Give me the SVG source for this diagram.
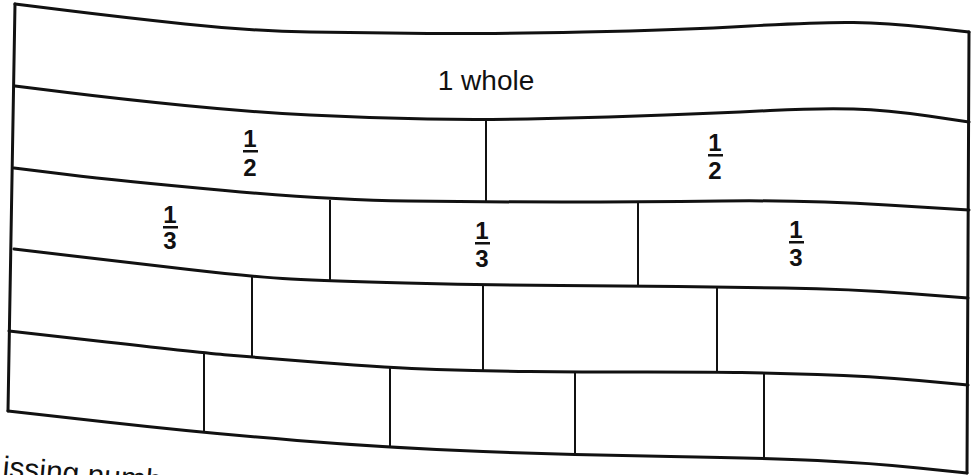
<svg xmlns="http://www.w3.org/2000/svg" width="971" height="475" viewBox="0 0 971 475">
<style>
.edge{fill:none;stroke:#111;stroke-width:3;stroke-linecap:round;stroke-linejoin:round}
.div{fill:none;stroke:#111;stroke-width:2}
.lbl{font-family:"Liberation Sans",Arial,sans-serif;fill:#111;text-anchor:middle}
.num{font-size:24px;font-weight:bold}
.bar{fill:#111}
</style>
<rect width="971" height="475" fill="#fff"/>
<g id="connectors">
<path class="edge" d="M15,4 L67.5,10.5 Q120,17 185,24 Q250,31 310,32 Q370,33 428,33.5 Q486,34 583,32 Q680,30 750,26 Q820,22 853.5,22.5 Q887,23 928.5,27.5 L969,32"/>
<path class="edge" d="M15,86 L67.5,92.5 Q120,99 185,105.5 Q250,112 310,115 Q370,118 427.5,119 Q485,120 547.5,118.5 Q610,117 665,115 Q720,113 770,110.5 Q820,108 853.5,109 Q887,110 928.5,116 L969,122"/>
<path class="edge" d="M14,168 L67,174.5 Q120,181 225,190.5 Q330,200 408,201 Q486,202 562,202 Q638,202 721.5,201 Q805,200 887,205 L969,210"/>
<path class="edge" d="M14,249 L69,255.5 Q124,262 189,269.5 Q254,277 291,279 Q328,281 405.5,283 Q483,285 560.5,285.5 Q638,286 678,286.5 Q718,287 784,288 Q850,289 909,293.5 L968,298"/>
<path class="edge" d="M9,331 L106.5,342 Q204,353 227.5,355 Q251,357 320.5,362.5 Q390,368 436.5,369.5 Q483,371 529.5,371.5 Q576,372 647,372 Q718,372 741.5,372.5 Q765,373 817.5,374.5 Q870,376 919,380.5 L968,385"/>
<path class="edge" d="M8,411 L106,422 Q204,433 297,440.5 Q390,448 483,451.5 Q576,455 670.5,456.5 Q765,458 817.5,460.5 Q870,463 918.5,468 L967,473"/>
<path class="edge" d="M15,4 L8,411"/>
<path class="edge" d="M969,32 L967,473"/>
</g>
<g id="row-whole">
<text class="lbl" x="486" y="90" font-size="28">1 whole</text>
</g>
<g id="row-halves">
<line class="div" x1="486" y1="120" x2="486" y2="202"/>
<g id="half-1">
<text class="lbl num" x="250" y="147">1</text><rect class="bar" x="243" y="150" width="15" height="2.5"/><text class="lbl num" x="250" y="176">2</text>
</g>
<g id="half-2">
<text class="lbl num" x="715" y="151">1</text><rect class="bar" x="708" y="154" width="15" height="2.5"/><text class="lbl num" x="715" y="179">2</text>
</g>
</g>
<g id="row-thirds">
<line class="div" x1="330" y1="200" x2="330" y2="281"/>
<line class="div" x1="638" y1="202" x2="638" y2="286"/>
<g id="third-1">
<text class="lbl num" x="170" y="223">1</text><rect class="bar" x="163" y="226" width="15" height="2.5"/><text class="lbl num" x="170" y="249">3</text>
</g>
<g id="third-2">
<text class="lbl num" x="482" y="239">1</text><rect class="bar" x="475" y="242" width="15" height="2.5"/><text class="lbl num" x="482" y="267">3</text>
</g>
<g id="third-3">
<text class="lbl num" x="796" y="238">1</text><rect class="bar" x="789" y="241" width="15" height="2.5"/><text class="lbl num" x="796" y="266">3</text>
</g>
</g>
<g id="row-fourths">
<line class="div" x1="252" y1="277" x2="252" y2="357"/>
<line class="div" x1="483" y1="285" x2="483" y2="371"/>
<line class="div" x1="717" y1="287" x2="717" y2="372"/>
</g>
<g id="row-fifths">
<line class="div" x1="204" y1="353" x2="204" y2="433"/>
<line class="div" x1="390" y1="368" x2="390" y2="448"/>
<line class="div" x1="575" y1="372" x2="575" y2="455"/>
<line class="div" x1="764" y1="373" x2="764" y2="458"/>
</g>
<text x="2" y="477" font-family="Liberation Sans,Arial,sans-serif" font-size="30" fill="#111" transform="rotate(5 2 477)">issing numb</text>
</svg>
